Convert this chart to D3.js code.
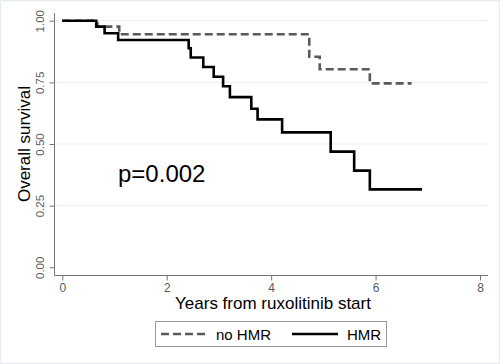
<!DOCTYPE html>
<html>
<head>
<meta charset="utf-8">
<script src="https://cdn.jsdelivr.net/npm/d3@7"></script>
<style>
  html, body { margin: 0; padding: 0; background: #fff; }
  svg { display: block; font-family: "Liberation Sans", Arial, sans-serif; }
</style>
</head>
<body>
<svg id="chart" width="500" height="364"></svg>
<script>
// Data
const xTicks = [0, 2, 4, 6, 8];
const yTicks = [0, 0.25, 0.5, 0.75, 1];
const yTickLabels = ["0.00", "0.25", "0.50", "0.75", "1.00"];
const gridValues = [0.25, 0.5, 0.75, 1];

const hmrTimes = [0, 0.65, 0.81, 1.07, 2.42, 2.46, 2.70, 2.90, 3.08, 3.21, 3.62, 3.74, 4.21, 5.14, 5.59, 5.89, 6.89];
const hmrSurv  = [1, 0.976, 0.949, 0.922, 0.888, 0.851, 0.812, 0.773, 0.734, 0.690, 0.643, 0.600, 0.547, 0.469, 0.392, 0.316, 0.316];

const noHmrTimes = [0, 0.67, 1.09, 4.73, 4.93, 5.89, 6.69];
const noHmrSurv  = [1, 0.976, 0.945, 0.854, 0.803, 0.746, 0.746];

const seriesNames = ["no HMR", "HMR"];
const pText = "p=0.002";
const xTitle = "Years from ruxolitinib start";
const yTitle = "Overall survival";

const svg = d3.select("#chart");

// outer faint frame
svg.append("rect").attr("x", 0.5).attr("y", 0.5).attr("width", 499).attr("height", 363)
  .attr("fill", "#fff").attr("stroke", "#e6edf0").attr("stroke-width", 1.5);

const x = d3.scaleLinear().domain([0, 8]).range([62.3, 480]);
const y = d3.scaleLinear().domain([0, 1]).range([267.3, 20.7]);

const axisLeftX = 54.5, axisBottomY = 275.5, plotRight = 488, plotTop = 13;

// gridlines
svg.append("g").selectAll("line").data(gridValues).join("line")
  .attr("x1", axisLeftX).attr("x2", plotRight)
  .attr("y1", d => y(d)).attr("y2", d => y(d))
  .attr("stroke", "#e8f0f1").attr("stroke-width", 1);

// Y axis
const yAxis = d3.axisLeft(y).tickValues(yTicks).tickSize(5).tickPadding(11)
  .tickFormat((d, i) => yTickLabels[i]);
const gy = svg.append("g").attr("transform", `translate(${axisLeftX},0)`).call(yAxis);
gy.select(".domain").attr("d", `M0,${plotTop}V${axisBottomY}`).attr("stroke", "#777");
gy.selectAll(".tick line").attr("stroke", "#777");
gy.selectAll(".tick text")
  .attr("fill", "#595959").attr("font-size", 11.5)
  .attr("x", null).attr("dy", null)
  .attr("text-anchor", "middle")
  .attr("transform", "translate(-11,0) rotate(-90)");

// X axis
const xAxis = d3.axisBottom(x).tickValues(xTicks).tickSize(5).tickPadding(3);
const gx = svg.append("g").attr("transform", `translate(0,${axisBottomY})`).call(xAxis);
gx.select(".domain").attr("d", `M${axisLeftX},0H${plotRight}`).attr("stroke", "#777");
gx.selectAll(".tick line").attr("stroke", "#777");
gx.selectAll(".tick text").attr("fill", "#595959").attr("font-size", 12);

svg.selectAll(".tick text").attr("font-family", "'Liberation Sans', Arial, sans-serif");

// curves
const line = d3.line().x(d => x(d[0])).y(d => y(d[1])).curve(d3.curveStepAfter);
const noHmr = noHmrTimes.map((t, i) => [t, noHmrSurv[i]]);
const hmr = hmrTimes.map((t, i) => [t, hmrSurv[i]]);

svg.append("path").datum(noHmr).attr("d", line)
  .attr("fill", "none").attr("stroke", "#5a5a5a").attr("stroke-width", 2.6)
  .attr("stroke-dasharray", "8,4");
svg.append("path").datum(hmr).attr("d", line)
  .attr("fill", "none").attr("stroke", "#000").attr("stroke-width", 2.6);

// p-value
svg.append("text").attr("x", 118).attr("y", 181.5).attr("font-size", 24)
  .attr("fill", "#000").text(pText);

// axis titles
svg.append("text").attr("transform", "translate(30,144) rotate(-90)")
  .attr("text-anchor", "middle").attr("font-size", 17).attr("fill", "#000").text(yTitle);
svg.append("text").attr("x", 273).attr("y", 309)
  .attr("text-anchor", "middle").attr("font-size", 17).attr("fill", "#000").text(xTitle);

// legend
const lg = svg.append("g");
lg.append("rect").attr("x", 155.5).attr("y", 321.5).attr("width", 231).attr("height", 25)
  .attr("fill", "#fff").attr("stroke", "#9a9a9a").attr("stroke-width", 1);
lg.append("line").attr("x1", 161).attr("x2", 209).attr("y1", 334).attr("y2", 334)
  .attr("stroke", "#5a5a5a").attr("stroke-width", 2.6).attr("stroke-dasharray", "8,4");
lg.append("text").attr("x", 216).attr("y", 339.5).attr("font-size", 15).text(seriesNames[0]);
lg.append("line").attr("x1", 292).attr("x2", 338).attr("y1", 334).attr("y2", 334)
  .attr("stroke", "#000").attr("stroke-width", 2.6);
lg.append("text").attr("x", 347).attr("y", 339.5).attr("font-size", 15).text(seriesNames[1]);
</script>
</body>
</html>
